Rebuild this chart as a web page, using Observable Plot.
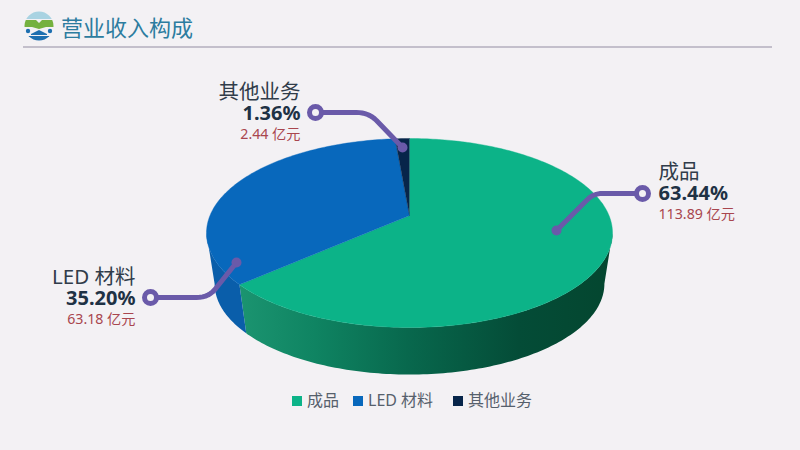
<!DOCTYPE html>
<html lang="zh">
<head>
<meta charset="utf-8">
<script src="https://cdn.jsdelivr.net/npm/d3@7"></script>
<script src="https://cdn.jsdelivr.net/npm/@observablehq/plot@0.6"></script>
<style>
  html,body{margin:0;padding:0;width:800px;height:450px;overflow:hidden;background:#f3f1f4;font-family:"Noto Sans","Noto Sans CJK SC",sans-serif}
  #head{position:relative;height:48px;box-sizing:border-box}
  #head h1{position:absolute;left:61px;top:11px;margin:0;font:400 22px/30px "Noto Sans CJK SC",sans-serif;color:#2c7c9f}
  #head svg{position:absolute;left:24px;top:11px}
  #head i{position:absolute;left:23px;right:28px;top:46px;height:2px;background:#c3bfcb}
  #chart{height:337px}
  #chart svg{display:block}
  #legend{position:relative;height:65px;color:#56606c;font:400 16px/20px "Noto Sans","Noto Sans CJK SC",sans-serif}
  #legend span{position:absolute;top:5px;white-space:nowrap}
  #legend b{position:absolute;left:-15px;top:6px;width:10px;height:10px}
</style>
</head>
<body>
<div id="head">
  <svg width="30" height="30" viewBox="0 0 30 30">
    <defs><clipPath id="disc"><circle cx="15" cy="15" r="14.5"/></clipPath></defs>
    <g clip-path="url(#disc)">
      <rect x="0" y="0" width="30" height="8" fill="#a9d3e2"/>
      <path d="M0 9h12l3 3 3-3h12v7h-8l-7 2-7-2H0z" fill="#75b13f"/>
      <circle cx="4" cy="20" r="2.2" fill="#1d6fb0"/><circle cx="26" cy="20" r="2.2" fill="#1d6fb0"/>
      <path d="M7 23l8-4 8 4v1H7z" fill="#1d6fb0"/>
      <rect x="0" y="25" width="30" height="6" fill="#1d6fb0"/>
    </g>
  </svg>
  <h1>营业收入构成</h1>
  <i></i>
</div>
<div id="chart"></div>
<div id="legend"></div>
<script>
const categories = ["成品", "LED 材料", "其他业务"];
const shares = [63.44, 35.20, 1.36];
const amounts = ["113.89 亿元", "63.18 亿元", "2.44 亿元"];
const percentLabels = ["63.44%", "35.20%", "1.36%"];
const colors = ["#0cb388", "#0868bc", "#07254a"];

// Perspective disc layout (pixels of the frame; used only to place the drawing)
const cx = 409, topCy = 215, A = 199.5, B = 91.26, k = 0.1852;
const bottomCy = 266.5, bottomScale = 0.96;
const project = (deg, cy, s) => {
  const t = deg * Math.PI / 180, u = Math.sin(t), v = Math.cos(t), w = 1 + k * v;
  return {x: cx + s * A * u / w, y: cy - s * B * v / w};
};
const arc = (a, b) => d3.range(a, b, 1).concat(b);

// Slice angles derived from the shares
let cum = 0;
const slices = categories.map((name, i) => {
  const start = cum / d3.sum(shares) * 360;
  cum += shares[i];
  return {name, start, end: cum / d3.sum(shares) * 360};
});
const topPts = slices.flatMap(s => [
  {name: s.name, x: cx, y: topCy},
  ...arc(s.start, s.end).map(d => ({name: s.name, ...project(d, topCy, 1)}))
]);
const visFrom = Math.acos(-k) * 180 / Math.PI, visTo = 360 - visFrom;
const sidePts = (s) => {
  const a = Math.max(s.start, visFrom), b = Math.min(s.end, visTo);
  if (b <= a) return [];
  return [
    ...arc(a, b).map(d => project(d, topCy, 1)),
    ...arc(a, b).reverse().map(d => project(d, bottomCy, bottomScale))
  ];
};

// Callout layout
const bend = (p0, c, p1, n = 8) => d3.range(n + 1).map(i => {
  const t = i / n, m = 1 - t;
  return {x: m*m*p0[0] + 2*m*t*c[0] + t*t*p1[0], y: m*m*p0[1] + 2*m*t*c[1] + t*t*p1[1]};
});
const callouts = [
  {ring: [642, 193], corner: [593, 193], before: [602, 193], after: [587, 199], tip: [556, 230], tx: 658, anchor: "start", y: [178, 200, 219]},
  {ring: [150, 297], corner: [209, 297], before: [196, 297], after: [216, 287], tip: [236, 262], tx: 135, anchor: "end", y: [283, 305, 324]},
  {ring: [315, 112], corner: [368, 112], before: [356, 112], after: [376, 120], tip: [402, 147], tx: 300, anchor: "end", y: [98, 120, 139]}
];
const leaderPts = callouts.flatMap((c, i) => [
  {i, x: c.ring[0], y: c.ring[1]},
  ...bend(c.before, c.corner, c.after).map(p => ({i, ...p})),
  {i, x: c.tip[0], y: c.tip[1]}
]);
const labelRows = callouts.map((c, i) => ({
  x: c.tx, anchor: c.anchor, yName: c.y[0], yPct: c.y[1], yAmt: c.y[2],
  name: categories[i], pct: percentLabels[i], amt: amounts[i]
}));
const font = '"Noto Sans","Noto Sans CJK SC",sans-serif';
const textMarks = (anchor) => {
  const rows = labelRows.filter(d => d.anchor === anchor);
  return [
    Plot.text(rows, {x: "x", y: "yName", text: "name", textAnchor: anchor, lineAnchor: "bottom", fontSize: 20.5, fill: "#303c4a", fontFamily: font}),
    Plot.text(rows, {x: "x", y: "yPct", text: "pct", textAnchor: anchor, lineAnchor: "bottom", fontSize: 20, fontWeight: 700, fill: "#1f3245", fontFamily: font, dy: -1}),
    Plot.text(rows, {x: "x", y: "yAmt", text: "amt", textAnchor: anchor, lineAnchor: "bottom", fontSize: 14.2, fill: "#a9464e", fontFamily: font, dy: -1})
  ];
};

const plot = Plot.plot({
  width: 800, height: 337,
  margin: 0,
  style: {background: "transparent"},
  x: {domain: [0, 800], range: [0, 800], axis: null},
  y: {domain: [48, 385], range: [0, 337], axis: null},
  color: {domain: categories, range: colors},
  marks: [
    () => {
      const defs = d3.create("svg:defs");
      const g = defs.append("linearGradient").attr("id", "greenSide").attr("gradientUnits", "userSpaceOnUse")
        .attr("x1", 240).attr("x2", 612).attr("y1", 0).attr("y2", 0);
      [[0, "#1b9470"], [0.2, "#0f8462"], [0.45, "#08684d"], [0.75, "#044c37"], [1, "#04462f"]]
        .forEach(([o, c]) => g.append("stop").attr("offset", o).attr("stop-color", c));
      return defs.node();
    },
    Plot.line(sidePts(slices[0]), {x: "x", y: "y", fill: "url(#greenSide)", stroke: "none"}),
    Plot.line(sidePts(slices[1]), {x: "x", y: "y", fill: "#0a5eaa", stroke: "none"}),
    Plot.line(topPts, {x: "x", y: "y", fill: "name", stroke: "name", strokeWidth: 0.4}),
    Plot.line(leaderPts, {x: "x", y: "y", z: "i", stroke: "#6a5aa9", strokeWidth: 5}),
    Plot.dot(callouts, {x: d => d.tip[0], y: d => d.tip[1], r: 5, fill: "#6a5aa9"}),
    Plot.dot(callouts, {x: d => d.ring[0], y: d => d.ring[1], r: 6, fill: "#f3f1f4", stroke: "#6a5aa9", strokeWidth: 5}),
    ...textMarks("start"),
    ...textMarks("end")
  ]
});
document.getElementById("chart").append(plot);

// Legend below the SVG
const legend = d3.select("#legend");
const legendLeft = [307, 368, 468];
categories.forEach((c, i) => {
  const s = legend.append("span").style("left", legendLeft[i] + "px").text(c);
  s.append("b").style("background", colors[i]);
});
</script>
</body>
</html>
